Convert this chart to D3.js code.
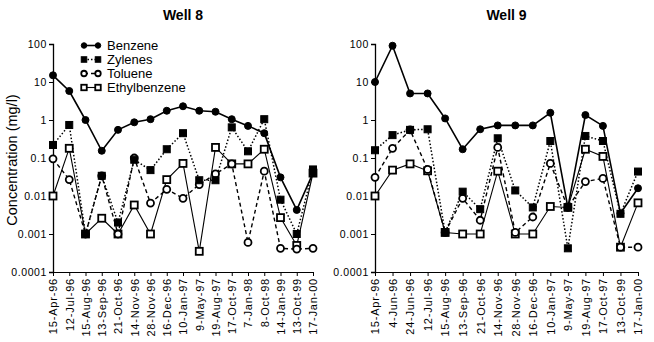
<!DOCTYPE html>
<html lang="en">
<head>
    <meta charset="UTF-8">
    <title>Well 8 / Well 9 concentrations</title>
    <script src="https://d3js.org/d3.v7.min.js"></script>
    <style>
        body {
            margin: 0;
            background: white;
            font-family: Arial, "Liberation Sans", sans-serif;
        }
        .axis text {
            font-family: Arial, "Liberation Sans", sans-serif;
            fill: #000;
        }
        .axis path, .axis line {
            stroke: #000;
        }
    </style>
</head>
<body>
    <div id="chart"></div>

    <script>
        // Well 8 sampling dates and values (mg/l)
        const well8Dates = ["15-Apr-96", "12-Jul-96", "15-Aug-96", "13-Sep-96", "21-Oct-96", "14-Nov-96",
            "28-Nov-96", "16-Dec-96", "10-Jan-97", "9-May-97", "19-Aug-97", "17-Oct-97", "7-Jan-98",
            "8-Oct-98", "14-Jan-99", "13-Oct-99", "17-Jan-00"];
        const well8Benzene = [15, 5.8, 1.0, 0.155, 0.55, 0.87, 1.05, 1.75, 2.3, 1.75, 1.65, 1.05, 0.7, 0.45, 0.031, 0.0043, 0.04];
        const well8Zylenes = [0.22, 0.74, 0.001, 0.034, 0.002, 0.09, 0.048, 0.17, 0.45, 0.026, 0.026, 0.64, 0.15, 1.05, 0.008, 0.001, 0.05];
        const well8Toluene = [0.095, 0.027, 0.001, 0.034, 0.001, 0.1, 0.0065, 0.015, 0.0087, 0.02, 0.038, 0.07, 0.0006, 0.045, 0.00042, 0.0004, 0.00042];
        const well8Ethyl = [0.01, 0.18, 0.001, 0.0026, 0.001, 0.0058, 0.001, 0.027, 0.072, 0.00035, 0.19, 0.07, 0.07, 0.17, 0.0027, 0.0005, 0.04];

        // Well 9 sampling dates and values (mg/l)
        const well9Dates = ["15-Apr-96", "4-Jun-96", "24-Jun-96", "12-Jul-96", "15-Aug-96", "13-Sep-96",
            "21-Oct-96", "14-Nov-96", "28-Nov-96", "16-Dec-96", "10-Jan-97", "9-May-97", "19-Aug-97",
            "17-Oct-97", "13-Oct-99", "17-Jan-00"];
        const well9Benzene = [10, 90, 5.0, 5.0, 1.1, 0.17, 0.57, 0.72, 0.72, 0.72, 1.55, 0.005, 1.35, 0.7, 0.0035, 0.016];
        const well9Zylenes = [0.16, 0.4, 0.55, 0.57, 0.0011, 0.013, 0.0045, 0.33, 0.014, 0.005, 0.28, 0.00042, 0.38, 0.28, 0.0034, 0.044];
        const well9Toluene = [0.031, 0.18, 0.55, 0.05, 0.0011, 0.0087, 0.0023, 0.19, 0.0011, 0.0028, 0.072, 0.005, 0.024, 0.029, 0.00045, 0.00045];
        const well9Ethyl = [0.01, 0.048, 0.07, 0.046, 0.0011, 0.001, 0.001, 0.045, 0.001, 0.001, 0.0053, 0.005, 0.17, 0.11, 0.00045, 0.0066];

        const seriesNames = ["Benzene", "Zylenes", "Toluene", "Ethylbenzene"];
        const yTicks = [0.0001, 0.001, 0.01, 0.1, 1, 10, 100];

        // how each series is drawn
        const seriesStyle = {
            "Benzene":      {marker: "circle", filled: true,  dash: null,  width: 1.6},
            "Zylenes":      {marker: "square", filled: true,  dash: "1.5,2", width: 1.5},
            "Toluene":      {marker: "circle", filled: false, dash: "4,3", width: 1.4},
            "Ethylbenzene": {marker: "square", filled: false, dash: null,  width: 1.1}
        };

        const svg = d3.select('#chart')
            .append('svg')
            .attr('width', 654)
            .attr('height', 342);

        function drawMarker(g, type, filled, x, y, size) {
            if (type === 'circle') {
                g.append('circle')
                    .attr('cx', x)
                    .attr('cy', y)
                    .attr('r', size / 2)
                    .attr('fill', filled ? '#000' : '#fff')
                    .attr('stroke', '#000')
                    .attr('stroke-width', filled ? 1 : 1.8);
            } else {
                g.append('rect')
                    .attr('x', x - size / 2)
                    .attr('y', y - size / 2)
                    .attr('width', size)
                    .attr('height', size)
                    .attr('fill', filled ? '#000' : '#fff')
                    .attr('stroke', '#000')
                    .attr('stroke-width', filled ? 1 : 1.8);
            }
        }

        function createPanel(title, dates, series, left, right) {
            const top = 44, bottom = 272;

            const x = d3.scalePoint()
                .domain(dates)
                .range([left, right]);

            const y = d3.scaleLog()
                .domain([0.0001, 100])
                .range([bottom, top]);

            const g = svg.append('g');

            // title
            g.append('text')
                .attr('x', (left + right) / 2)
                .attr('y', 20)
                .attr('text-anchor', 'middle')
                .style('font-size', '14px')
                .style('font-weight', 'bold')
                .text(title);

            // Y axis
            const yAxis = g.append('g')
                .attr('class', 'axis')
                .attr('transform', `translate(${left},0)`)
                .call(d3.axisLeft(y)
                    .tickValues(yTicks)
                    .tickSize(4)
                    .tickPadding(2)
                    .tickFormat(d => d >= 1 ? String(d) : d.toFixed(Math.round(-Math.log10(d)))));
            yAxis.select('.domain').attr('stroke-width', 1.3);
            yAxis.selectAll('text')
                .style('font-size', '10.5px')
                .style('letter-spacing', '0.6px');

            // X axis
            const xAxis = g.append('g')
                .attr('class', 'axis')
                .attr('transform', `translate(0,${bottom})`)
                .call(d3.axisBottom(x).tickSize(4).tickSizeOuter(0));
            xAxis.select('.domain').attr('stroke', '#777').attr('stroke-width', 1);
            xAxis.selectAll('text')
                .style('font-size', '11px')
                .style('letter-spacing', '0.8px')
                .style('text-anchor', 'end')
                .attr('x', -6)
                .attr('y', 0)
                .attr('dy', '0.35em')
                .attr('transform', 'rotate(-90)');

            // lines first, then markers
            seriesNames.forEach(name => {
                const st = seriesStyle[name];
                const values = series[name];
                const pts = dates.map((d, i) => ({date: d, value: values[i]}));

                g.append('path')
                    .datum(pts)
                    .attr('fill', 'none')
                    .attr('stroke', '#000')
                    .attr('stroke-width', st.width)
                    .attr('stroke-dasharray', st.dash)
                    .attr('d', d3.line()
                        .x(d => x(d.date))
                        .y(d => y(d.value)));
            });

            seriesNames.slice().reverse().forEach(name => {
                const st = seriesStyle[name];
                const values = series[name];
                dates.forEach((d, i) => {
                    drawMarker(g, st.marker, st.filled, x(d), y(values[i]), 7);
                });
            });
        }

        createPanel('Well 8', well8Dates, {
            "Benzene": well8Benzene,
            "Zylenes": well8Zylenes,
            "Toluene": well8Toluene,
            "Ethylbenzene": well8Ethyl
        }, 53, 313);

        createPanel('Well 9', well9Dates, {
            "Benzene": well9Benzene,
            "Zylenes": well9Zylenes,
            "Toluene": well9Toluene,
            "Ethylbenzene": well9Ethyl
        }, 375, 638);

        // Y axis label
        svg.append('text')
            .attr('transform', 'rotate(-90)')
            .attr('x', -160)
            .attr('y', 17)
            .attr('text-anchor', 'middle')
            .style('font-size', '14.5px')
            .text('Concentration (mg/l)');

        // legend (top of Well 8 panel)
        const legend = svg.append('g');
        seriesNames.forEach((name, i) => {
            const st = seriesStyle[name];
            const ly = 45.5 + i * 14;
            legend.append('line')
                .attr('x1', 84)
                .attr('x2', 98)
                .attr('y1', ly)
                .attr('y2', ly)
                .attr('stroke', '#000')
                .attr('stroke-width', st.width)
                .attr('stroke-dasharray', st.dash);
            drawMarker(legend, st.marker, st.filled, 84, ly, 5.5);
            drawMarker(legend, st.marker, st.filled, 98, ly, 5.5);
            legend.append('text')
                .attr('x', 107)
                .attr('y', ly + 4.5)
                .style('font-size', '13px')
                .text(name);
        });
    </script>
</body>
</html>
